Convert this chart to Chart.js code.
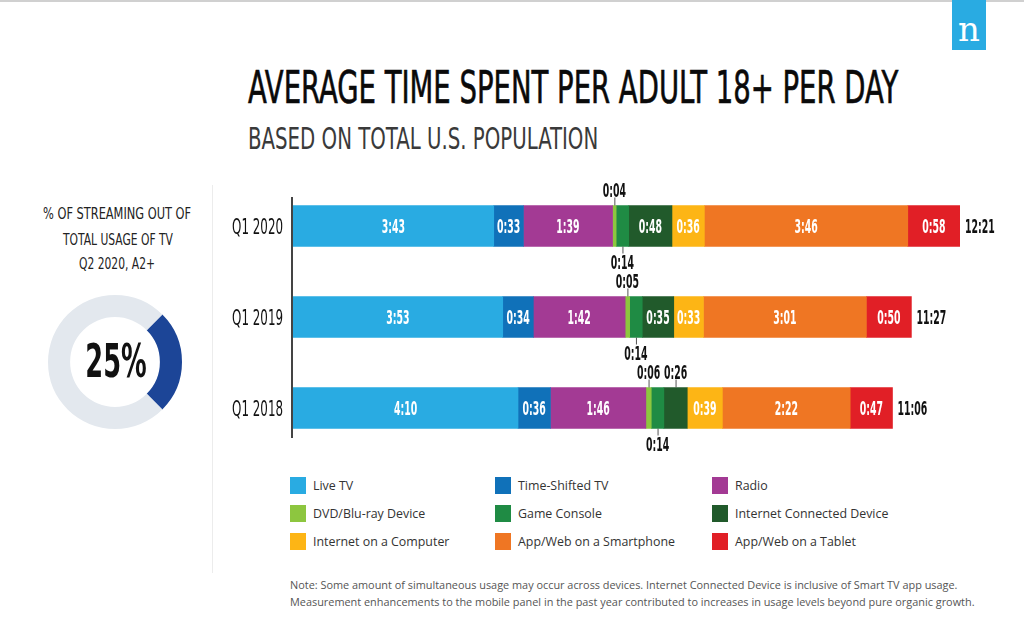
<!DOCTYPE html>
<html>
<head>
<meta charset="utf-8">
<script src="https://cdn.jsdelivr.net/npm/chart.js@4.4.1/dist/chart.umd.min.js"></script>
<style>
  body { margin: 0; width: 1024px; height: 625px; background: #fff; position: relative; overflow: hidden; font-family: "Open Sans", sans-serif; }
  .topline { position: absolute; left: 0; top: 0; width: 1024px; height: 2px; background: #d0d0d0; }
  .logo { position: absolute; left: 952px; top: 0; width: 34px; height: 50px; background: #29abe2; color: #fff;
          font: 34px "DejaVu Serif", serif; text-align: center; line-height: 58px; }
  .cond { position: absolute; white-space: nowrap; line-height: 1; transform-origin: 0 0;
          font-family: "Liberation Sans Narrow", "DejaVu Sans Condensed", sans-serif; }
  .sep { position: absolute; left: 212px; top: 185px; width: 1px; height: 388px; background: #ececec; }
  #bars { position: absolute; left: 213px; top: 170px; }
  #donut { position: absolute; left: 48px; top: 295px; }
  .legend { position: absolute; left: 290px; top: 477px; }
  .legend .item { position: absolute; display: flex; align-items: center; font-size: 12.4px; color: #333; white-space: nowrap; }
  .legend .sw { width: 16px; height: 17px; margin-right: 7px; }
  .note { position: absolute; left: 290px; top: 576px; font-size: 10.9px; line-height: 17px; color: #555; white-space: nowrap; }
</style>
</head>
<body>
<div class="topline"></div>
<div class="logo">n</div>

<div class="cond" data-w="650" style="left:248px;top:66px;font-size:44px;color:#0a0a0a;-webkit-text-stroke:0.6px #0a0a0a;">AVERAGE TIME SPENT PER ADULT 18+ PER DAY</div>
<div class="cond" data-w="350" style="left:248px;top:123px;font-size:31px;color:#3a3a3a;">BASED ON TOTAL U.S. POPULATION</div>

<div class="cond" data-w="148" data-cx="117" style="top:206px;font-size:16.5px;color:#222;">% OF STREAMING OUT OF</div>
<div class="cond" data-w="110" data-cx="118" style="top:232px;font-size:16.5px;color:#222;">TOTAL USAGE OF TV</div>
<div class="cond" data-w="76" data-cx="117" style="top:256px;font-size:16.5px;color:#222;">Q2 2020, A2+</div>

<div class="sep"></div>
<canvas id="donut" width="134" height="134"></canvas>
<canvas id="bars" width="811" height="300"></canvas>
<div class="legend" id="legend"></div>
<div class="note">Note: Some amount of simultaneous usage may occur across devices. Internet Connected Device is inclusive of Smart TV app usage.<br>Measurement enhancements to the mobile panel in the past year contributed to increases in usage levels beyond pure organic growth.</div>

<script>
// ── Data (minutes per day) ────────────────────────────────────────────────────
const quarters = ["Q1 2020", "Q1 2019", "Q1 2018"];
const seriesNames = ["Live TV", "Time-Shifted TV", "Radio", "DVD/Blu-ray Device", "Game Console",
                     "Internet Connected Device", "Internet on a Computer", "App/Web on a Smartphone", "App/Web on a Tablet"];
const liveTV      = [223, 233, 250];
const timeShifted = [33, 34, 36];
const radio       = [99, 102, 106];
const dvd         = [4, 5, 6];
const gameConsole = [14, 14, 14];
const connected   = [48, 35, 26];
const computer    = [36, 33, 39];
const smartphone  = [226, 181, 142];
const tablet      = [58, 50, 47];

const streamingShare = [25, 75];   // % of TV usage, Q2 2020
const streamingLabel = "25%";

const seriesColors = ["#29abe2", "#1071b9", "#a33a94", "#8dc63f", "#1f8b44",
                      "#215a2b", "#fdb515", "#ef7623", "#e11f26"];
// which side a too-narrow segment puts its label on
const smallSide = { "DVD/Blu-ray Device": "above", "Game Console": "below", "Internet Connected Device": "above" };

const seriesValues = [liveTV, timeShifted, radio, dvd, gameConsole, connected, computer, smartphone, tablet];
const totals = quarters.map((_, i) => seriesValues.reduce((s, v) => s + v[i], 0));

const COND = '"Liberation Sans Narrow", "DejaVu Sans Condensed", sans-serif';
const fmt = m => `${Math.floor(m / 60)}:${String(m % 60).padStart(2, "0")}`;

// ── HTML text squeeze ─────────────────────────────────────────────────────────
document.querySelectorAll(".cond").forEach(el => {
  const w = +el.dataset.w;
  const sx = w / el.offsetWidth;
  el.style.transform = `scaleX(${sx})`;
  if (el.dataset.cx) el.style.left = (+el.dataset.cx - w / 2) + "px";
});

// ── Legend ────────────────────────────────────────────────────────────────────
const legend = document.getElementById("legend");
const colX = [0, 205, 422], rowY = [0, 28, 56];
seriesNames.forEach((name, i) => {
  const d = document.createElement("div");
  d.className = "item";
  d.style.left = colX[i % 3] + "px";
  d.style.top = rowY[Math.floor(i / 3)] + "px";
  d.innerHTML = `<span class="sw" style="background:${seriesColors[i]}"></span>${name}`;
  legend.appendChild(d);
});

function condText(ctx, text, x, y, sx, align) {
  const w = ctx.measureText(text).width * sx;
  const x0 = align === "center" ? x - w / 2 : align === "right" ? x - w : x;
  ctx.save();
  ctx.translate(x0, y);
  ctx.scale(sx, 1);
  ctx.textAlign = "left";
  ctx.fillText(text, 0, 0);
  ctx.restore();
}

// ── Bar chart ─────────────────────────────────────────────────────────────────
const barLabels = {
  id: "barLabels",
  afterDatasetsDraw(chart) {
    const { ctx, chartArea, scales: { y } } = chart;
    ctx.save();
    // axis line
    ctx.strokeStyle = "#444";
    ctx.lineWidth = 2;
    ctx.beginPath();
    ctx.moveTo(chartArea.left - 1, y.getPixelForValue(0) - 29);
    ctx.lineTo(chartArea.left - 1, y.getPixelForValue(quarters.length - 1) + 30);
    ctx.stroke();

    ctx.textBaseline = "alphabetic";
    // category labels
    ctx.fillStyle = "#111";
    ctx.font = `22px ${COND}`;
    quarters.forEach((q, i) => condText(ctx, q, chartArea.left - 10, y.getPixelForValue(i) + 8, 0.6, "right"));

    ctx.font = `bold 20px ${COND}`;
    const SX = 0.52;
    chart.data.datasets.forEach((ds, di) => {
      chart.getDatasetMeta(di).data.forEach((bar, i) => {
        const v = ds.data[i];
        const left = Math.min(bar.x, bar.base), w = Math.abs(bar.x - bar.base);
        const cx = left + w / 2, top = bar.y - bar.height / 2, bot = bar.y + bar.height / 2;
        if (w >= 26) {
          ctx.fillStyle = "#fff";
          condText(ctx, fmt(v), cx, bar.y + 7.3, SX, "center");
        } else {
          const side = smallSide[ds.label] || "above";
          ctx.strokeStyle = "#555";
          ctx.lineWidth = 1;
          ctx.beginPath();
          if (side === "above") { ctx.moveTo(cx + 0.5, top); ctx.lineTo(cx + 0.5, top - 8); }
          else { ctx.moveTo(cx + 0.5, bot); ctx.lineTo(cx + 0.5, bot + 7); }
          ctx.stroke();
          ctx.fillStyle = "#111";
          condText(ctx, fmt(v), cx, side === "above" ? top - 9 : bot + 22, SX, "center");
        }
      });
    });
    // totals
    ctx.fillStyle = "#111";
    const last = chart.getDatasetMeta(chart.data.datasets.length - 1).data;
    totals.forEach((t, i) => condText(ctx, fmt(t), last[i].x + 5, last[i].y + 7.3, SX, "left"));
    ctx.restore();
  },
};

new Chart(document.getElementById("bars"), {
  type: "bar",
  data: {
    labels: quarters,
    datasets: seriesNames.map((name, i) => ({
      label: name,
      data: seriesValues[i],
      backgroundColor: seriesColors[i],
      borderWidth: 0,
      barThickness: 41,
    })),
  },
  options: {
    indexAxis: "y",
    responsive: false,
    animation: false,
    layout: { padding: { top: 10.5, bottom: 16.5, right: 64, left: 0 } },
    plugins: { legend: { display: false }, tooltip: { enabled: false } },
    scales: {
      x: { stacked: true, display: false, min: 0, max: Math.max(...totals) },
      y: { stacked: true, grid: { display: false }, border: { display: false },
           ticks: { display: false }, afterFit: s => { s.width = 80; } },
    },
  },
  plugins: [barLabels],
});

// ── Donut ─────────────────────────────────────────────────────────────────────
const donutCenter = {
  id: "donutCenter",
  afterDraw(chart) {
    const { ctx } = chart;
    const m = chart.getDatasetMeta(0).data[0];
    ctx.save();
    ctx.fillStyle = "#111";
    ctx.font = `bold 46px ${COND}`;
    ctx.textBaseline = "alphabetic";
    condText(ctx, streamingLabel, m.x + 1, m.y + 15, 0.62, "center");
    ctx.restore();
  },
};

new Chart(document.getElementById("donut"), {
  type: "doughnut",
  data: {
    labels: ["Streaming", "Other"],
    datasets: [{ data: streamingShare, backgroundColor: ["#1c4597", "#e3e8ee"], borderWidth: 0 }],
  },
  options: {
    responsive: false,
    animation: false,
    rotation: 45,
    cutout: "67%",
    plugins: { legend: { display: false }, tooltip: { enabled: false } },
  },
  plugins: [donutCenter],
});
</script>
</body>
</html>
